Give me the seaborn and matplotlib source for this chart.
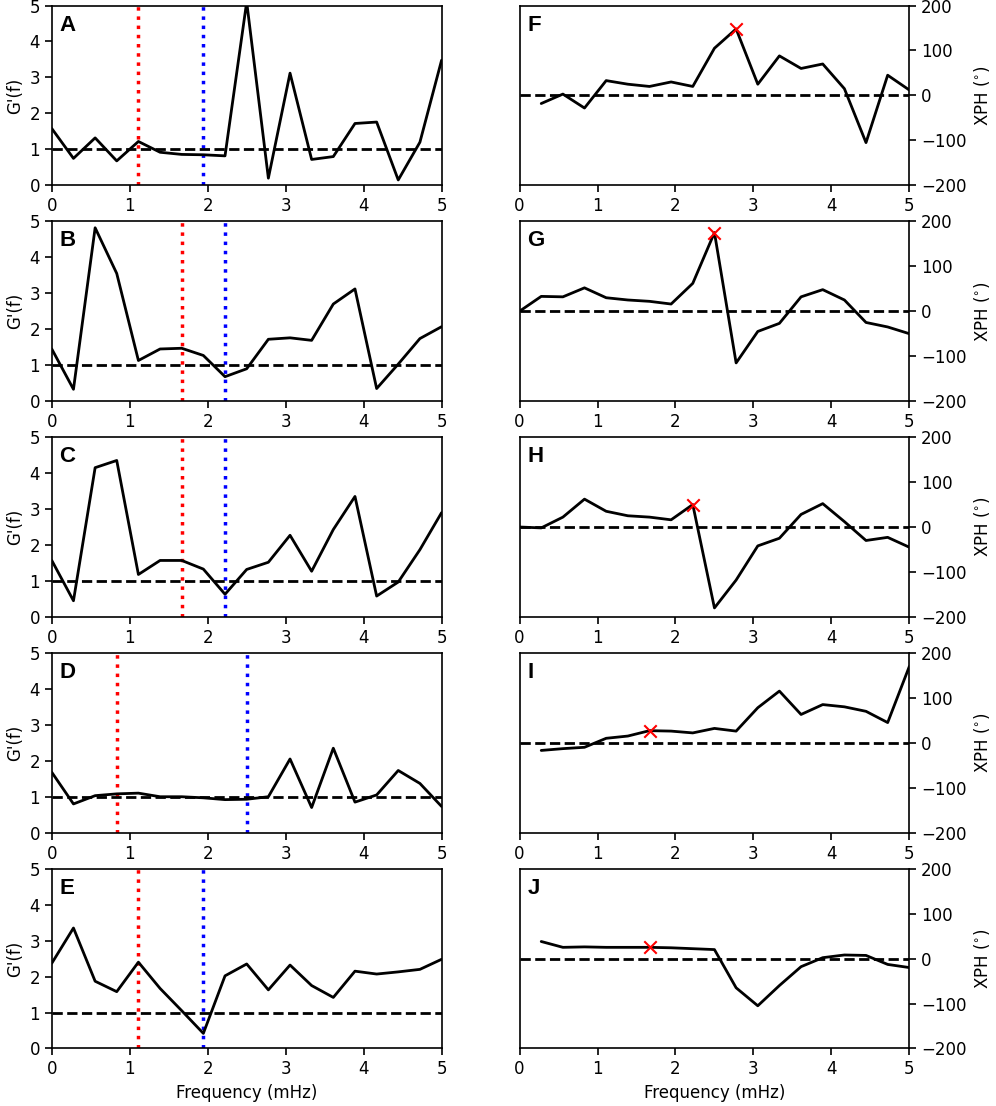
import numpy as np
import pandas as pd
import matplotlib
matplotlib.use("Agg")
import matplotlib.pyplot as plt
import seaborn as sns

# -----------------------------
# Data
# -----------------------------
freq = [0.0, 0.278, 0.556, 0.833, 1.111, 1.389, 1.667, 1.944, 2.222, 2.5,
        2.778, 3.056, 3.333, 3.611, 3.889, 4.167, 4.444, 4.722, 5.0]

gain_A = [1.58, 0.75, 1.32, 0.68, 1.22, 0.92, 0.86, 0.85, 0.82, 5.1,
          0.2, 3.12, 0.72, 0.8, 1.72, 1.76, 0.15, 1.2, 3.48]
gain_B = [1.45, 0.33, 4.82, 3.55, 1.13, 1.45, 1.47, 1.27, 0.68, 0.9,
          1.72, 1.76, 1.69, 2.7, 3.12, 0.35, 1.03, 1.74, 2.07]
gain_C = [1.57, 0.45, 4.15, 4.35, 1.18, 1.57, 1.57, 1.33, 0.63, 1.32,
          1.52, 2.27, 1.27, 2.43, 3.35, 0.58, 0.97, 1.87, 2.9]
gain_D = [1.68, 0.8, 1.03, 1.08, 1.1, 1.0, 1.0, 0.97, 0.92, 0.93,
          1.0, 2.05, 0.7, 2.35, 0.85, 1.05, 1.73, 1.37, 0.73]
gain_E = [2.37, 3.35, 1.87, 1.58, 2.4, 1.67, 1.05, 0.42, 2.02, 2.35,
          1.63, 2.32, 1.75, 1.42, 2.15, 2.07, 2.13, 2.2, 2.48]

xph_F = [np.nan, -18, 3, -28, 33, 25, 20, 30, 20, 105,
         148, 25, 88, 60, 70, 15, -105, 45, 12]
xph_G = [0, 33, 32, 52, 30, 25, 22, 16, 62, 175,
         -115, -45, -27, 32, 48, 25, -25, -35, -50]
xph_H = [0, -2, 22, 62, 35, 25, 22, 16, 50, -180,
         -118, -42, -25, 28, 52, 12, -30, -23, -45]
xph_I = [np.nan, -17, -13, -10, 10, 15, 27, 26, 22, 32,
         26, 78, 115, 63, 85, 80, 70, 45, 170]
xph_J = [np.nan, 38, 25, 26, 25, 25, 25, 24, 22, 20,
         -65, -105, -60, -18, 2, 8, 7, -13, -20]

gain_series = [gain_A, gain_B, gain_C, gain_D, gain_E]
xph_series = [xph_F, xph_G, xph_H, xph_I, xph_J]
left_letters = ["A", "B", "C", "D", "E"]
right_letters = ["F", "G", "H", "I", "J"]

red_lines = [1.111, 1.667, 1.667, 0.833, 1.111]
blue_lines = [1.944, 2.222, 2.222, 2.5, 1.944]
marker_idx = [10, 9, 8, 6, 6]

# -----------------------------
# Figure
# -----------------------------
sns.set_style("ticks")
plt.rcParams["font.family"] = ["DejaVu Sans"]
plt.rcParams["font.size"] = 12
for key in ["text.color", "axes.labelcolor", "xtick.color", "ytick.color",
            "axes.edgecolor"]:
    plt.rcParams[key] = "black"

fig, axes = plt.subplots(5, 2, figsize=(9.96, 11.06), dpi=100)
fig.subplots_adjust(left=0.052, right=0.913, top=0.995, bottom=0.052,
                    hspace=0.2, wspace=0.2)

for i in range(5):
    # left column: G'(f)
    ax = axes[i, 0]
    df = pd.DataFrame({"f": freq, "g": gain_series[i]})
    ax.axvline(red_lines[i], color="red", ls=":", lw=2.5)
    ax.axvline(blue_lines[i], color="blue", ls=":", lw=2.5)
    ax.axhline(1, color="black", ls="--", lw=2)
    sns.lineplot(data=df, x="f", y="g", color="black", lw=2, ax=ax)
    ax.set_xlim(0, 5)
    ax.set_ylim(0, 5)
    ax.set_yticks([0, 1, 2, 3, 4, 5])
    ax.set_xticks([0, 1, 2, 3, 4, 5])
    ax.set_ylabel("G'(f)")
    ax.set_xlabel("Frequency (mHz)" if i == 4 else "")
    ax.text(0.02, 0.95, left_letters[i], transform=ax.transAxes,
            fontsize=16, fontweight="bold", va="top", ha="left",
            family=["Liberation Sans", "DejaVu Sans"])

    # right column: XPH
    ax = axes[i, 1]
    df = pd.DataFrame({"f": freq, "p": xph_series[i]})
    ax.axhline(0, color="black", ls="--", lw=2)
    sns.lineplot(data=df.dropna(), x="f", y="p", color="black", lw=2, ax=ax)
    k = marker_idx[i]
    sns.scatterplot(x=[freq[k]], y=[xph_series[i][k]], marker="x",
                    color="red", s=80, linewidth=1.5, ax=ax, zorder=5)
    ax.set_xlim(0, 5)
    ax.set_ylim(-200, 200)
    ax.set_yticks([-200, -100, 0, 100, 200])
    ax.set_xticks([0, 1, 2, 3, 4, 5])
    ax.yaxis.tick_right()
    ax.yaxis.set_label_position("right")
    ax.set_ylabel("XPH ($^{\\circ}$)")
    ax.set_xlabel("Frequency (mHz)" if i == 4 else "")
    ax.text(0.02, 0.95, right_letters[i], transform=ax.transAxes,
            fontsize=16, fontweight="bold", va="top", ha="left",
            family=["Liberation Sans", "DejaVu Sans"])

for ax in axes.flat:
    for s in ax.spines.values():
        s.set_linewidth(1.2)
    ax.tick_params(width=1.2, length=5)

fig.savefig("out.png", dpi=100)
